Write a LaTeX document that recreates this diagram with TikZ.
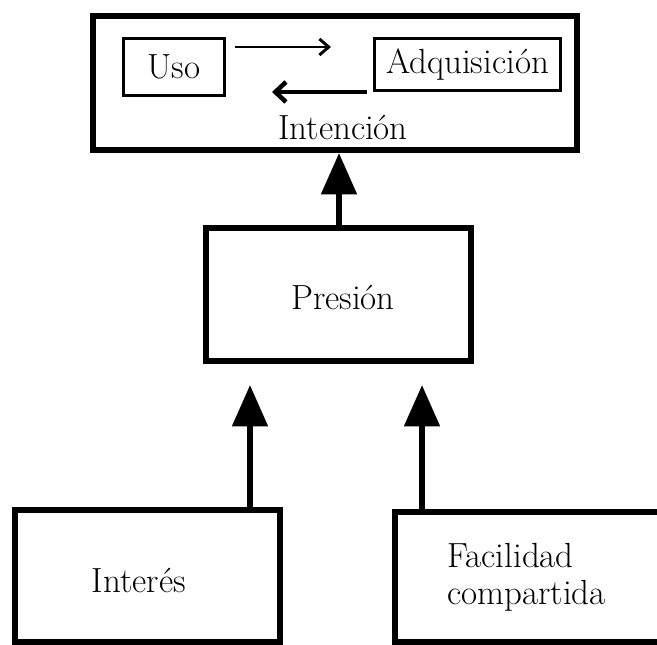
\documentclass[tikz,border=0pt]{standalone}
\usetikzlibrary{arrows.meta}
\begin{document}
\begin{tikzpicture}[x=0.75pt,y=-0.75pt,
  txt/.style={font=\fontsize{26.2}{27.8}\selectfont, text=black, inner sep=0pt},
  thickbox/.style={txt, draw=black, line width=4.5pt, fill=none},
  thinbox/.style={txt, draw=black, line width=2.25pt},
  bigarrow/.style={line width=4.5pt, -{Triangle[length=31pt,width=26pt]}},
  smallarrow/.style={line width=2.2pt, -{Straight Barb[length=7pt,width=12pt,line width=2.2pt]}},
  midarrow/.style={line width=3.4pt, -{Straight Barb[length=8pt,width=15pt,line width=3.4pt]}}
]
\useasboundingbox (0,0) rectangle (657,645);
\fill[white] (0,0) rectangle (657,645);

% top box
\node[thickbox, minimum width=484*0.75pt, minimum height=134*0.75pt] (top) at (335,83) {};
\node[thinbox, minimum width=101*0.75pt, minimum height=57*0.75pt] (uso) at (174,67) {Uso};
\node[thinbox, minimum width=186*0.75pt, minimum height=52*0.75pt] (adq) at (467.5,64.5) {Adquisición};
\node[txt] (int) at (343,127) {Intención};

\coordinate (u1) at (235,47);
\coordinate (u2) at (331,47);
\coordinate (a1) at (367,92);
\coordinate (a2) at (272,92);
\draw[smallarrow] (u1) -- (u2);
\draw[midarrow] (a1) -- (a2);

% middle box
\node[thickbox, minimum width=265*0.75pt, minimum height=133*0.75pt] (pres) at (338.5,294.5) {};
\node[txt] (prestxt) at (343,297) {Presión};

% bottom boxes
\node[thickbox, minimum width=265*0.75pt, minimum height=132*0.75pt] (inte) at (147.5,576) {};
\node[txt] (intetxt) at (139,580) {Interés};
\node[thickbox, minimum width=275*0.75pt, minimum height=130*0.75pt] (fac) at (532.5,577) {};
\node[txt, align=left, anchor=west] (factxt) at (447,577) {Facilidad\\compartida};

% arrows
\coordinate (t1) at (250,385);
\coordinate (t2) at (422,385);
\draw[bigarrow] (pres.north -| 339,0) -- (top.south -| 339,0);
\draw[bigarrow] (inte.north -| t1) -- (t1);
\draw[bigarrow] (fac.north -| t2) -- (t2);
\end{tikzpicture}
\end{document}
